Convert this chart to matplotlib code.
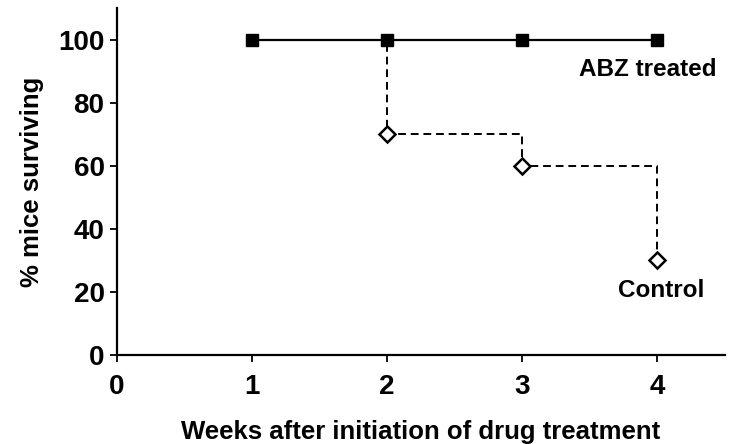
import matplotlib
matplotlib.use('agg')
import matplotlib.pyplot as plt

plt.rcParams['font.family'] = ['Liberation Sans', 'DejaVu Sans']
plt.rcParams['font.weight'] = 'bold'

weeks = [1, 2, 3, 4]
abz_treated = [100, 100, 100, 100]
control = [100, 70, 60, 30]

fig = plt.figure(figsize=(7.29, 4.44), dpi=100)
ax = fig.add_axes([0.1605, 0.2005, 0.834, 0.7815])

# control: step curve, dashed, open diamonds (first point sits under the square)
ax.plot(weeks, control, color='black', lw=1.4, ls=(0, (4, 2.5)),
        drawstyle='steps-post', zorder=2)
ax.plot(weeks[1:], control[1:], ls='none', marker='D', ms=8,
        mfc='white', mec='black', mew=1.8, zorder=3)

ax.plot(weeks, abz_treated, color='black', lw=1.6, marker='s', ms=9,
        mfc='black', mec='black', zorder=4)

ax.text(4.44, 90.5, 'ABZ treated', ha='right', va='center', fontsize=17.5, fontweight='bold')
ax.text(4.35, 20.5, 'Control', ha='right', va='center', fontsize=17.5, fontweight='bold')

ax.set_xlim(0, 4.5)
ax.set_ylim(0, 110)
ax.set_xticks([0, 1, 2, 3, 4])
ax.set_yticks([0, 20, 40, 60, 80, 100])
ax.tick_params(direction='out', length=5, width=1.3, labelsize=20)
ax.tick_params(axis='x', pad=9)
ax.tick_params(axis='y', pad=4)
for lab in ax.get_xticklabels() + ax.get_yticklabels():
    lab.set_fontweight('bold')

ax.spines['top'].set_visible(False)
ax.spines['right'].set_visible(False)
ax.spines['left'].set_linewidth(1.6)
ax.spines['bottom'].set_linewidth(1.6)

ax.set_xlabel('Weeks after initiation of drug treatment', fontsize=18.5, fontweight='bold', labelpad=14)
ax.set_ylabel('% mice surviving', fontsize=18.5, fontweight='bold', labelpad=10)

fig.savefig('out.png', dpi=100)
